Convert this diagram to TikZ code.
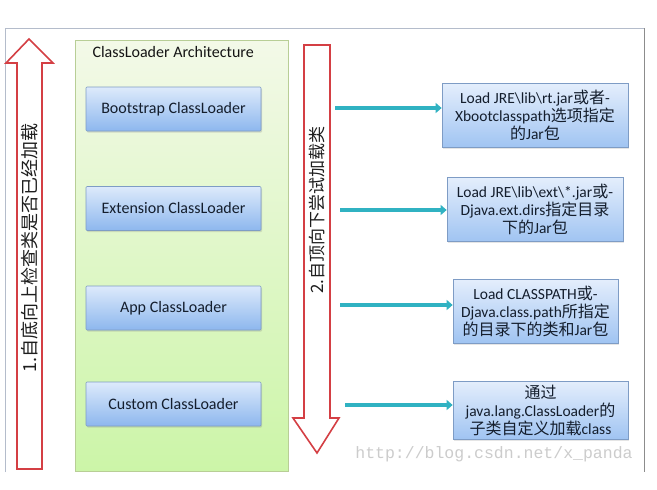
\documentclass[tikz,border=0pt]{standalone}
\usepackage{fontspec}
\setmainfont{Carlito}
\newfontfamily\cjk{Noto Sans CJK SC}
\newfontfamily\wmfont{Liberation Mono}
\usetikzlibrary{arrows.meta,shadows}
\newcommand{\zh}[1]{{\cjk\fontsize{16}{18}\selectfont #1}}
\definecolor{arrowred}{HTML}{D43F44}
\definecolor{cyanl}{HTML}{30B2C2}
\definecolor{framegrey}{HTML}{B4BCCB}
\definecolor{framedark}{HTML}{8C8C8C}
\tikzset{
  container/.style={draw={rgb,255:red,184;green,206;blue,150}, line width=0.8pt,
    top color={rgb,255:red,243;green,249;blue,232}, bottom color={rgb,255:red,204;green,245;blue,168},
    minimum width=213pt, minimum height=431pt, inner sep=0pt},
  loader/.style={draw={rgb,255:red,126;green,156;blue,197}, line width=0.7pt, rounded corners=1pt,
    top color={rgb,255:red,221;green,234;blue,251}, bottom color={rgb,255:red,141;green,183;blue,238},
    minimum width=175pt, minimum height=44pt, inner sep=0pt,
    font=\fontsize{16}{18}\selectfont, text={rgb,255:red,20;green,30;blue,45},
    drop shadow={opacity=0.25, shadow xshift=1pt, shadow yshift=-1.5pt}},
  note/.style={draw={rgb,255:red,126;green,156;blue,197}, line width=0.7pt,
    top color={rgb,255:red,228;green,238;blue,252}, bottom color={rgb,255:red,160;green,196;blue,242},
    minimum height=64pt, inner sep=0pt, align=center,
    font=\fontsize{15.5}{18}\selectfont, text={rgb,255:red,20;green,30;blue,45},
    drop shadow={opacity=0.2, shadow xshift=1pt, shadow yshift=-1.5pt}},
  conn/.style={draw=cyanl, line width=4pt, -{Triangle[length=6pt,width=10pt]}},
  blockarrow/.style={draw=arrowred, line width=1.6pt, fill=white, line join=miter},
  vlabel/.style={rotate=90, font=\cjk\fontsize{18}{18}\selectfont, text={rgb,255:red,30;green,30;blue,30}}
}
\begin{document}
\begin{tikzpicture}[x=1pt,y=-1pt]
\useasboundingbox (0,0) rectangle (657,490);
\fill[white] (0,0) rectangle (657,490);
% frame
\draw[framegrey, line width=0.8pt] (5,472) -- (5,28) -- (644,28);
\draw[framedark, line width=1pt] (644,28) -- (644,472);
% left up arrow
\draw[blockarrow] (29,39) -- (53,63) -- (42,63) -- (42,469) -- (17,469) -- (17,63) -- (6,63) -- cycle;
\node[vlabel] (upl) at (30,248) {1.自底向上检查类是否已经加载};
% container
\node[container] (arch) at (181.5,255.5) {};
\node[anchor=west, font=\fontsize{16}{18}\selectfont, text={rgb,255:red,20;green,20;blue,20}] (title) at (89,52) {ClassLoader Architecture};
\node[loader] (boot) at (173.5,109) {Bootstrap ClassLoader};
\node[loader] (ext) at (173.5,208.5) {Extension ClassLoader};
\node[loader] (app) at (173.5,308) {App ClassLoader};
\node[loader] (cust) at (173.5,404) {Custom ClassLoader};
% right down arrow
\draw[blockarrow] (304,45) -- (330,45) -- (330,418) -- (339,418) -- (317,453) -- (293,418) -- (304,418) -- cycle;
\node[vlabel, font=\cjk\fontsize{17}{17}\selectfont] (downl) at (317,210) {2.自顶向下尝试加载类};
% notes
\node[note, minimum width=186pt] (n1) at (535,115.5) {Load JRE\textbackslash lib\textbackslash rt.jar\zh{或者}-\\Xbootclasspath\zh{选项指定}\\\zh{的}Jar\zh{包}};
\node[note, minimum width=176pt] (n2) at (535,209.5) {Load JRE\textbackslash lib\textbackslash ext\textbackslash *.jar\zh{或}-\\Djava.ext.dirs\zh{指定目录}\\\zh{下的}Jar\zh{包}};
\node[note, minimum width=165pt] (n3) at (535.5,311) {Load CLASSPATH\zh{或}-\\Djava.class.path\zh{所指定}\\\zh{的目录下的类和}Jar\zh{包}};
\node[note, minimum width=175pt, minimum height=58pt] (n4) at (540.5,410) {\zh{通过}\\java.lang.ClassLoader\zh{的}\\\zh{子类自定义加载}class};
% connectors
\coordinate (s1) at (335,108);
\coordinate (s2) at (340,210);
\coordinate (s3) at (340,305);
\coordinate (s4) at (345,405);
\draw[conn] (s1) -- (s1 -| n1.west);
\draw[conn] (s2) -- (s2 -| n2.west);
\draw[conn] (s3) -- (s3 -| n3.west);
\draw[conn] (s4) -- (s4 -| n4.west);
% watermark
\node[font=\wmfont\fontsize{16.5}{16.5}\selectfont, text=black!20] (wm) at (494,454) {http://blog.csdn.net/x\_panda};
\end{tikzpicture}
\end{document}
